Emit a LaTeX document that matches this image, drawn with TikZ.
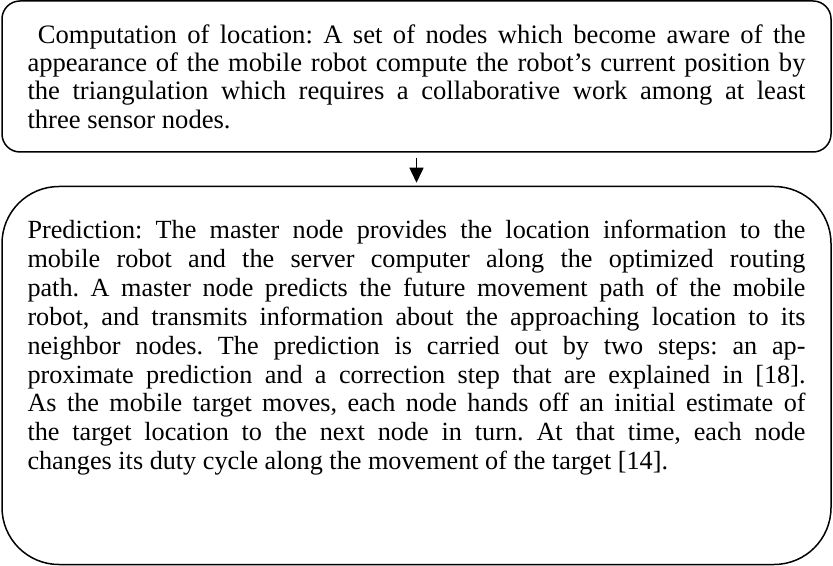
\documentclass[tikz,border=0pt]{standalone}
\usepackage{fontspec}
\setmainfont{Liberation Serif}
\usepackage{tikz}
\usetikzlibrary{arrows.meta,positioning}

\begin{document}
\frenchspacing
\begin{tikzpicture}[->,>={Triangle[length=7.5pt,width=7pt]},line width=0.75pt]
  \tikzstyle{stepbox}=[draw,rounded corners=9pt,text width=389pt,align=justify,
                       minimum width=414.5pt,minimum height=75.5pt,inner sep=0pt,
                       font=\fontsize{13.3pt}{14.2pt}\selectfont]
  \tikzstyle{predbox}=[draw,rounded corners=28.5pt,text width=389pt,align=justify,
                       minimum width=414.5pt,inner xsep=0pt,inner ysep=0pt,
                       text height=26pt,text depth=163pt,
                       font=\fontsize{13.1pt}{14.45pt}\selectfont]
  \useasboundingbox (0,0) rectangle (416.5pt,-283pt);

  \node[stepbox] (comp) at (208.25pt,-38.25pt)
    {\ Computation of location: A set of nodes which become aware of the\linebreak
     appearance of the mobile robot compute the robot’s current position by\linebreak
     the triangulation which requires a collaborative work among at least\linebreak
     three sensor nodes.};
  \node[predbox] (pred) [below=16.5pt of comp]
    {Prediction: The master node provides the location information to the\linebreak
     mobile robot and the server computer along the optimized routing\linebreak
     path. A master node predicts the future movement path of the mobile\linebreak
     robot, and transmits information about the approaching location to its\linebreak
     neighbor nodes. The prediction is carried out by two steps: an ap-\linebreak
     proximate prediction and a correction step that are explained in [18].\linebreak
     As the mobile target moves, each node hands off an initial estimate of\linebreak
     the target location to the next node in turn. At that time, each node\linebreak
     changes its duty cycle along the movement of the target [14].};

  \path (comp) edge[shorten <=2.5pt,shorten >=1.5pt] (pred);
\end{tikzpicture}
\end{document}
